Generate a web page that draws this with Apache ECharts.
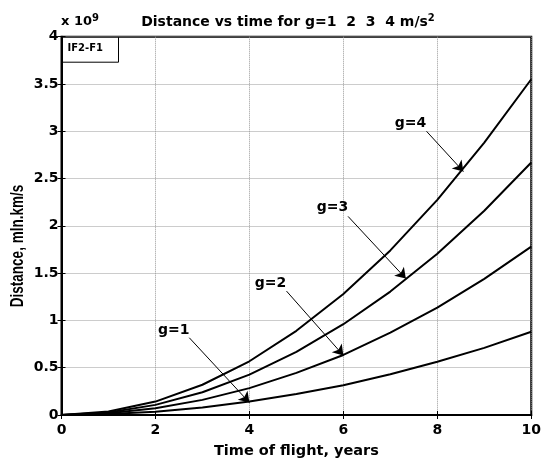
<!DOCTYPE html>
<html>
<head>
<meta charset="utf-8">
<script src="https://cdn.jsdelivr.net/npm/echarts@6/dist/echarts.min.js"></script>
<style>
  html, body { margin: 0; padding: 0; background: #fff; }
  #chart { width: 544px; height: 464px; }
</style>
</head>
<body>
<div id="chart"></div>
<script>
// time of flight, years
var years = [0, 1, 2, 3, 4, 5, 6, 7, 8, 9, 10];
// distance (x 10^9)
var distG1 = [0, 0.010, 0.035, 0.080, 0.142, 0.222, 0.315, 0.430, 0.563, 0.710, 0.880];
var distG2 = [0, 0.018, 0.071, 0.160, 0.284, 0.445, 0.635, 0.870, 1.135, 1.440, 1.780];
var distG3 = [0, 0.027, 0.107, 0.240, 0.427, 0.667, 0.960, 1.305, 1.705, 2.160, 2.670];
var distG4 = [0, 0.036, 0.142, 0.320, 0.568, 0.890, 1.280, 1.740, 2.275, 2.880, 3.550];
var xTicks = [0, 2, 4, 6, 8, 10];
var yTicks = [0, 0.5, 1, 1.5, 2, 2.5, 3, 3.5, 4];

// annotation: label position, arrow start, arrow end (data coords)
var notes = [
  { name: 'g=1', text: [2.39, 0.894], from: [2.72, 0.817], to: [4.0, 0.131] },
  { name: 'g=2', text: [4.45, 1.39], from: [4.79, 1.31], to: [6.0, 0.63] },
  { name: 'g=3', text: [5.77, 2.2], from: [6.10, 2.10], to: [7.33, 1.443] },
  { name: 'g=4', text: [7.43, 3.08], from: [7.77, 3.0], to: [8.555, 2.575] }
];

// the picture is stretched sideways, so the wide DejaVu face fits the horizontal text
var WIDE = 'DejaVu Sans';
var NARROW = 'Liberation Sans';

function pairs(ys) {
  return years.map(function (t, i) { return [t, ys[i]]; });
}

function makeSeries(ys, note) {
  return {
    type: 'line',
    data: pairs(ys),
    showSymbol: false,
    symbol: 'none',
    color: '#000',
    lineStyle: { color: '#000', width: 2 },
    silent: true,
    markLine: {
      silent: true,
      symbol: ['none', 'arrow'],
      symbolSize: 10,
      itemStyle: { color: '#000' },
      lineStyle: { color: '#000', width: 1, type: 'solid' },
      label: { show: false },
      data: [[{ coord: note.from }, { coord: note.to }]]
    },
    markPoint: {
      symbol: 'rect',
      symbolSize: 0,
      label: {
        show: true,
        formatter: note.name,
        color: '#000',
        fontWeight: 'bold',
        fontSize: 14,
        fontFamily: WIDE
      },
      data: [{ coord: note.text }]
    }
  };
}

var myChart = echarts.init(document.getElementById('chart'));

var axisFont = { color: '#000', fontWeight: 'bold', fontSize: 14, fontFamily: WIDE };
var innerTick = { show: true, inside: true, length: 4, lineStyle: { color: '#000' } };
var gridLine = { show: true, lineStyle: { color: '#999', type: [1, 1], width: 1 } };

myChart.setOption({
  animation: false,
  title: {
    text: 'Distance vs time for g=1  2  3  4 m/s{sup|2}',
    left: 283,
    top: 8,
    textAlign: 'center',
    textStyle: {
      color: '#000', fontWeight: 'bold', fontSize: 14, fontFamily: WIDE,
      rich: {
        sup: { fontSize: 10, fontWeight: 'bold', fontFamily: WIDE, color: '#000', verticalAlign: 'top', padding: [0, 0, 8, 0] }
      }
    }
  },
  grid: {
    left: 61.5, right: 7, top: 36.7, bottom: 48.3,
    show: true, borderColor: '#000', borderWidth: 2, backgroundColor: '#fff'
  },
  xAxis: [{
    type: 'value', min: 0, max: 10, interval: 2,
    name: 'Time of flight, years',
    nameLocation: 'middle', nameGap: 29,
    nameTextStyle: { color: '#000', fontWeight: 'bold', fontSize: 14.5, fontFamily: WIDE },
    axisLine: { show: true, lineStyle: { color: '#000', width: 2 } },
    axisTick: innerTick,
    axisLabel: Object.assign({ margin: 8, formatter: function (v) { return xTicks.indexOf(v) >= 0 ? String(v) : ''; } }, axisFont),
    splitLine: gridLine
  }, {
    type: 'value', min: 0, max: 10, interval: 2, position: 'top',
    axisLine: { show: false }, axisLabel: { show: false }, splitLine: { show: false },
    axisTick: innerTick
  }],
  yAxis: [{
    type: 'value', min: 0, max: 4, interval: 0.5,
    axisLine: { show: true, lineStyle: { color: '#000', width: 2 } },
    axisTick: innerTick,
    axisLabel: Object.assign({ margin: 3, formatter: function (v) { return yTicks.indexOf(v) >= 0 ? String(v) : ''; } }, axisFont),
    splitLine: gridLine
  }, {
    type: 'value', min: 0, max: 4, interval: 0.5, position: 'right',
    axisLine: { show: false }, axisLabel: { show: false }, splitLine: { show: false },
    axisTick: innerTick
  }],
  graphic: [
    {
      type: 'text', x: 18, y: 246, rotation: Math.PI / 2, scaleY: 1.3, z: 10,
      style: {
        text: 'Distance, mln.km/s', fill: '#000',
        fontSize: 13.5, fontWeight: 'bold', fontFamily: NARROW,
        align: 'center', verticalAlign: 'middle'
      }
    },
    {
      type: 'text', left: 61, top: 13, z: 10,
      style: {
        text: 'x 10{sup|9}',
        fill: '#000', fontSize: 13, fontWeight: 'bold', fontFamily: WIDE,
        rich: { sup: { fontSize: 10, fontWeight: 'bold', fontFamily: WIDE, fill: '#000', verticalAlign: 'top', padding: [0, 0, 8, 0] } }
      }
    },
    {
      type: 'group', left: 61, top: 36.7, z: 10,
      children: [
        { type: 'rect', shape: { x: 0, y: 0, width: 57, height: 25 }, style: { fill: '#fff', stroke: '#000', lineWidth: 1 } },
        { type: 'text', style: { x: 6, y: 6, text: 'IF2-F1', fill: '#000', fontSize: 10, fontWeight: 'bold', fontFamily: WIDE } }
      ]
    }
  ],
  series: [
    makeSeries(distG1, notes[0]),
    makeSeries(distG2, notes[1]),
    makeSeries(distG3, notes[2]),
    makeSeries(distG4, notes[3])
  ]
});
</script>
</body>
</html>
